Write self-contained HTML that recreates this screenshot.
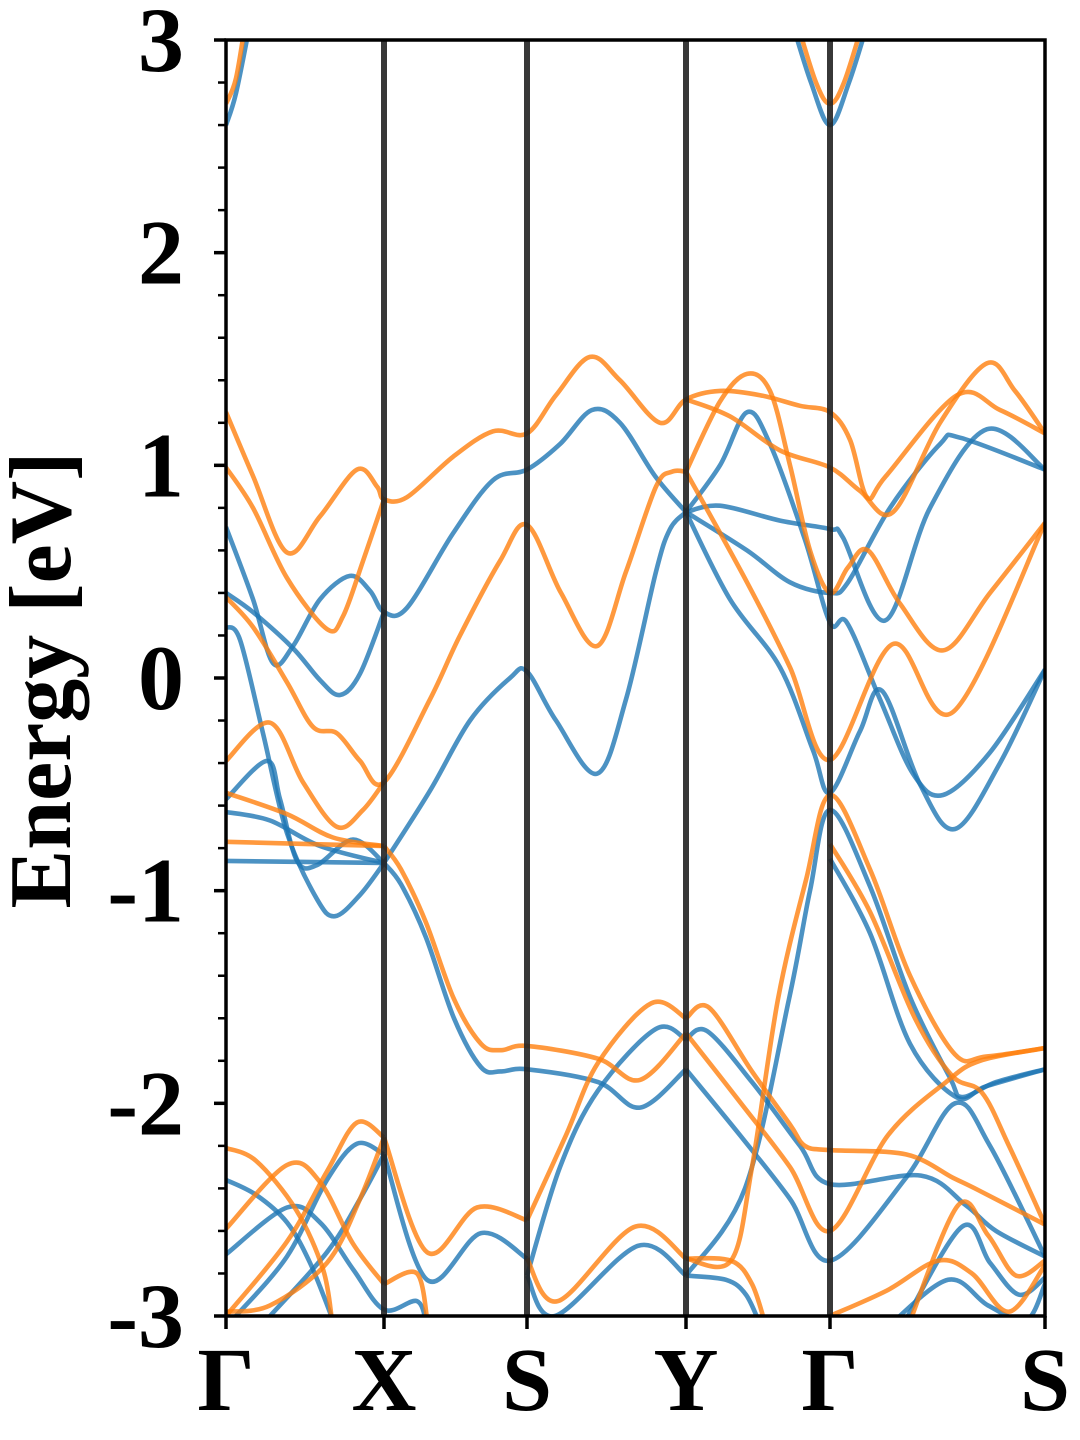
<!DOCTYPE html>
<html><head><meta charset="utf-8"><style>
html,body{margin:0;padding:0;background:#fff;}
svg{display:block;}
text{font-family:"Liberation Serif","Times New Roman",serif;font-weight:bold;fill:#000;}
</style></head>
<body>
<svg id="chart" width="1080" height="1440" viewBox="0 0 1080 1440" xmlns="http://www.w3.org/2000/svg">
<defs><clipPath id="plotclip"><rect x="226" y="40" width="819" height="1276"/></clipPath></defs>
<g id="bands" clip-path="url(#plotclip)"></g>
<g id="vlines"></g>
<g id="axes"></g>
<text x="0" y="0" font-family="Liberation Serif, serif" font-weight="bold" font-size="88" text-anchor="middle" transform="translate(70,680) rotate(-90)">Energy [eV]</text>
</svg>
<script>
const kTicks = [0, 158, 301, 460, 604, 819];
const kLabels = ["Γ", "X", "S", "Y", "Γ", "S"];
const yTicks = [3, 2, 1, 0, -1, -2, -3];
const yTickLabels = ["3", "2", "1", "0", "-1", "-2", "-3"];

const bandsUp = [
 [[0,2.6],[10,2.75],[25,3.1]],
 [[565,3.1],[585,2.8],[604,2.6],[623,2.8],[643,3.1]],
 [[0,0.71],[27,0.37],[47,0.07],[67,0.15],[94,0.37],[124,0.48],[144,0.41],[158,0.31],[181,0.33],[227,0.68],[267,0.93],[301,0.98],[334,1.1],[366,1.26],[394,1.2],[429,0.95],[460,0.78]],
 [[0,0.40],[27,0.31],[67,0.14],[94,-0.01],[114,-0.08],[134,0.02],[158,0.31]],
 [[0,0.24],[14,0.18],[37,-0.26],[61,-0.73],[91,-1.04],[109,-1.12],[134,-1.02],[158,-0.87]],
 [[0,-0.57],[41,-0.39],[54,-0.57],[71,-0.86],[91,-0.88],[127,-0.76],[158,-0.87]],
 [[0,-0.63],[44,-0.67],[94,-0.79],[158,-0.87]],
 [[0,-0.86],[158,-0.87]],
 [[158,-0.87],[204,-0.53],[244,-0.2],[284,0],[301,0.03],[330,-0.2],[371,-0.45],[400,-0.1],[430,0.5],[444,0.7],[460,0.78]],
 [[158,-0.87],[175,-0.97],[200,-1.22],[228,-1.6],[255,-1.83],[275,-1.85],[301,-1.84],[372,-1.90],[414,-2.02],[460,-1.84]],
 [[301,-2.81],[334,-2.30],[372,-1.94],[430,-1.65],[460,-1.70]],
 [[158,-2.24],[201,-2.83],[255,-2.61],[301,-2.73]],
 [[301,-2.81],[329,-3.0],[412,-2.67],[460,-2.81]],
 [[0,-2.36],[30,-2.43],[61,-2.56],[84,-2.75],[107,-3.02]],
 [[0,-2.71],[61,-2.49],[94,-2.56],[127,-2.78],[158,-2.97],[191,-2.93],[201,-3.05]],
 [[10,-3.0],[61,-2.72],[101,-2.36],[131,-2.19],[158,-2.24]],
 [[44,-3.0],[101,-2.7],[134,-2.45],[158,-2.24]],
 [[460,0.78],[494,1.0],[521,1.25],[544,1.1],[579,0.65],[604,0.26],[621,0.26],[654,-0.1],[687,-0.45],[717,-0.55],[764,-0.35],[819,0.04]],
 [[460,0.78],[494,0.81],[554,0.74],[604,0.70],[617,0.66],[659,0.27],[704,0.8],[761,1.17],[819,0.98]],
 [[460,0.78],[521,0.6],[564,0.45],[604,0.40],[622,0.45],[664,0.80],[714,1.10],[734,1.13],[819,0.98]],
 [[460,0.78],[504,0.37],[554,0.05],[587,-0.34],[604,-0.54],[634,-0.25],[656,-0.06],[694,-0.5],[729,-0.71],[774,-0.4],[819,0.04]],
 [[460,-2.81],[519,-2.4],[563,-1.51],[584,-1.0],[604,-0.62],[644,-0.98],[684,-1.5],[724,-1.88],[736,-1.97],[770,-1.90],[819,-1.84]],
 [[604,-0.85],[644,-1.2],[684,-1.72],[730,-1.97],[760,-1.92],[819,-1.84]],
 [[460,-1.70],[481,-1.66],[526,-1.9],[574,-2.2],[604,-2.38],[695,-2.34],[740,-2.48],[770,-2.6],[819,-2.72]],
 [[460,-1.84],[514,-2.15],[564,-2.45],[604,-2.74],[680,-2.35],[729,-2.0],[764,-2.2],[819,-2.72]],
 [[460,-2.81],[500,-2.83],[520,-2.9],[535,-3.05]],
 [[676,-3.05],[736,-2.58],[764,-2.75],[793,-2.90],[819,-2.82]],
 [[662,-3.05],[722,-2.83],[762,-2.95],[800,-3.02],[819,-2.85]]
];

const bandsDown = [
 [[0,2.7],[10,2.82],[20,3.1]],
 [[570,3.1],[590,2.8],[604,2.7],[618,2.8],[638,3.1]],
 [[0,1.25],[27,0.95],[61,0.59],[94,0.76],[131,0.98],[151,0.90],[158,0.84],[181,0.85],[227,1.04],[267,1.16],[301,1.15],[330,1.33],[364,1.51],[394,1.40],[434,1.20],[460,1.31],[494,1.35],[534,1.33],[574,1.28],[604,1.25],[624,1.12],[641,0.85],[660,0.95],[731,1.33],[774,1.26],[819,1.15]],
 [[460,1.31],[504,1.23],[554,1.07],[604,0.99],[634,0.88],[667,0.78],[714,1.2],[761,1.48],[789,1.35],[819,1.15]],
 [[0,0.99],[27,0.80],[61,0.47],[101,0.23],[117,0.29],[137,0.55],[158,0.84]],
 [[0,0.38],[27,0.24],[61,-0.02],[87,-0.23],[111,-0.26],[134,-0.39],[158,-0.49],[204,-0.1],[234,0.2],[274,0.55],[301,0.72],[335,0.4],[371,0.15],[400,0.5],[430,0.9],[446,0.97],[460,0.97]],
 [[0,-0.39],[44,-0.21],[77,-0.49],[111,-0.70],[137,-0.62],[158,-0.49]],
 [[0,-0.54],[61,-0.64],[107,-0.75],[158,-0.79]],
 [[0,-0.77],[158,-0.79]],
 [[158,-0.79],[175,-0.90],[200,-1.15],[228,-1.51],[255,-1.72],[275,-1.75],[301,-1.73],[372,-1.79],[414,-1.89],[460,-1.67]],
 [[301,-2.55],[340,-2.15],[372,-1.81],[425,-1.53],[460,-1.60]],
 [[158,-2.16],[201,-2.70],[251,-2.49],[301,-2.55]],
 [[301,-2.73],[332,-2.93],[409,-2.58],[460,-2.73]],
 [[158,-2.85],[191,-2.80],[202,-3.05]],
 [[0,-2.21],[30,-2.27],[70,-2.5],[97,-2.78],[106,-3.02]],
 [[0,-2.59],[61,-2.29],[94,-2.37],[127,-2.66],[158,-2.85]],
 [[0,-3.0],[61,-2.65],[101,-2.32],[131,-2.09],[158,-2.16]],
 [[0,-2.98],[44,-2.95],[101,-2.75],[134,-2.45],[158,-2.16]],
 [[460,0.97],[494,1.3],[521,1.43],[544,1.35],[564,1.0],[584,0.6],[604,0.40],[622,0.52],[642,0.60],[674,0.35],[717,0.13],[764,0.40],[819,0.73]],
 [[460,0.97],[521,0.45],[564,0.05],[604,-0.385],[667,0.16],[727,-0.16],[819,0.73]],
 [[460,-2.73],[505,-2.74],[526,-2.3],[552,-1.51],[580,-0.95],[604,-0.55],[644,-0.9],[684,-1.4],[729,-1.77],[760,-1.78],[819,-1.74]],
 [[460,-1.60],[483,-1.55],[526,-1.85],[564,-2.1],[579,-2.2],[604,-2.22],[680,-2.24],[727,-2.35],[753,-2.41],[819,-2.57]],
 [[460,-1.67],[515,-2.0],[564,-2.3],[604,-2.6],[662,-2.15],[720,-1.9],[754,-1.80],[819,-1.74]],
 [[604,-0.78],[644,-1.1],[689,-1.6],[726,-1.87],[756,-1.95],[783,-2.2],[819,-2.57]],
 [[460,-2.73],[505,-2.74],[526,-2.85],[540,-3.05]],
 [[604,-3.0],[661,-2.88],[712,-2.74],[746,-2.8],[783,-2.98],[819,-2.76]],
 [[682,-3.05],[732,-2.48],[762,-2.62],[790,-2.81],[819,-2.74]]
];

const X0 = 226, X1 = 1045, Y0 = 40, Y1 = 1316, EMAX = 3, EMIN = -3;
function xS(k){ return X0 + (k - kTicks[0]) / (kTicks[kTicks.length-1] - kTicks[0]) * (X1 - X0); }
function yS(e){ return Y0 + (EMAX - e) / (EMAX - EMIN) * (Y1 - Y0); }
const NS = "http://www.w3.org/2000/svg";

function smoothPath(pts){
  const p = pts.map(q => [xS(q[0]), yS(q[1])]);
  let d = "M" + p[0][0].toFixed(1) + "," + p[0][1].toFixed(1);
  for (let i = 0; i < p.length - 1; i++){
    const p0 = p[i-1] || p[i], p1 = p[i], p2 = p[i+1], p3 = p[i+2] || p[i+1];
    const c1x = p1[0] + (p2[0]-p0[0])/6, c1y = p1[1] + (p2[1]-p0[1])/6;
    const c2x = p2[0] - (p3[0]-p1[0])/6, c2y = p2[1] - (p3[1]-p1[1])/6;
    d += " C" + c1x.toFixed(1)+","+c1y.toFixed(1)+" "+c2x.toFixed(1)+","+c2y.toFixed(1)+" "+p2[0].toFixed(1)+","+p2[1].toFixed(1);
  }
  return d;
}

const gB = document.getElementById("bands");
function drawBands(list, color, name){
  list.forEach(function(b){
    const el = document.createElementNS(NS, "path");
    el.setAttribute("d", smoothPath(b));
    el.setAttribute("fill", "none");
    el.setAttribute("stroke", color);
    el.setAttribute("stroke-width", "4.6");
    el.setAttribute("stroke-opacity", "0.8");
    el.setAttribute("stroke-linejoin", "round");
    
    
    gB.appendChild(el);
  });
}
drawBands(bandsUp, "#1f77b4", "spin-up-band");
drawBands(bandsDown, "#ff7f0e", "spin-down-band");

const gV = document.getElementById("vlines");
kTicks.slice(1, kTicks.length-1).forEach(function(k){
  const l = document.createElementNS(NS, "line");
  l.setAttribute("x1", xS(k)); l.setAttribute("x2", xS(k));
  l.setAttribute("y1", Y0); l.setAttribute("y2", Y1);
  l.setAttribute("stroke", "#222"); l.setAttribute("stroke-opacity", "0.9");
  l.setAttribute("stroke-width", "6");
  
  
  gV.appendChild(l);
});

const gA = document.getElementById("axes");
function line(x1,y1,x2,y2,w,name){
  const l = document.createElementNS(NS, "line");
  l.setAttribute("x1",x1); l.setAttribute("y1",y1); l.setAttribute("x2",x2); l.setAttribute("y2",y2);
  l.setAttribute("stroke","#000"); l.setAttribute("stroke-width",w);
  
  
  gA.appendChild(l);
}
function text(x,y,s,size,anchor,name){
  const t = document.createElementNS(NS, "text");
  t.setAttribute("x",x); t.setAttribute("y",y); t.setAttribute("font-size",size);
  t.setAttribute("font-family","Liberation Serif, serif");
  t.setAttribute("font-weight","bold");
  t.setAttribute("text-anchor",anchor);
  t.textContent = s;
  
  
  gA.appendChild(t);
}
const fr = document.createElementNS(NS, "rect");
fr.setAttribute("x",X0); fr.setAttribute("y",Y0); fr.setAttribute("width",X1-X0); fr.setAttribute("height",Y1-Y0);
fr.setAttribute("fill","none"); fr.setAttribute("stroke","#000"); fr.setAttribute("stroke-width","3.5");


gA.appendChild(fr);
for (let e = EMIN; e <= EMAX + 1e-9; e += 0.2){
  line(X0-8, yS(e), X0, yS(e), 2.5, "y-minor-tick");
}
yTicks.forEach(function(v,i){
  line(X0-12, yS(v), X0, yS(v), 3.5, "y-major-tick");
  text(184, yS(v)+31, yTickLabels[i], 92, "end", "y-tick-label");
});
kTicks.forEach(function(k,i){
  line(xS(k), Y1, xS(k), Y1+13, 3.5, "x-tick");
  text(xS(k), 1410, kLabels[i], 90, "middle", "x-tick-label");
});
</script>
</body></html>
